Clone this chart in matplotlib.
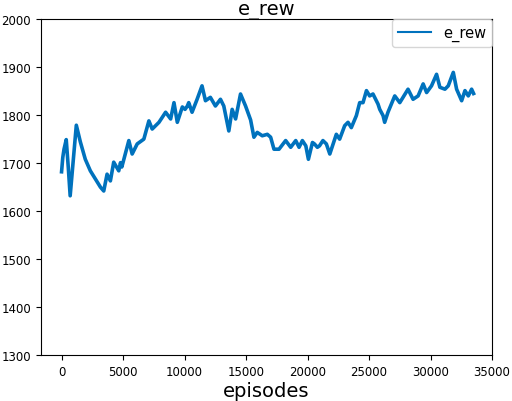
import matplotlib
matplotlib.use("Agg")
import matplotlib.pyplot as plt
import numpy as np

# values (episode, e_rew)
episodes = [
    0, 100, 200, 380, 550, 700, 1200, 1530, 1930, 2340, 2750, 3160, 3430,
    3700, 3970, 4240, 4650, 4790, 4900, 5470, 5740, 6150, 6690, 7100, 7370,
    7920, 8460, 8870, 9140, 9410, 9820, 10040, 10230, 10340, 10610, 11020,
    11420, 11700, 12100, 12510, 12920, 13190, 13600, 13870, 14150, 14550,
    14960, 15370, 15640, 15910, 16320, 16730, 17000, 17270, 17680, 18220,
    18630, 19040, 19310, 19580, 19860, 20070, 20400, 20560, 20800, 20970,
    21250, 21530, 21810, 22340, 22610, 23020, 23290, 23560, 23970, 24240,
    24510, 24790, 25050, 25320, 25730, 25870, 26140, 26270, 26540, 27090,
    27500, 28170, 28580, 28990, 29400, 29680, 30080, 30490, 30760, 31170,
    31440, 31850, 32120, 32530, 32800, 33070, 33340, 33500,
]
e_rew = [
    1682, 1712, 1729, 1749, 1690, 1632, 1779, 1744, 1708, 1684, 1667, 1650,
    1642, 1677, 1663, 1702, 1684, 1701, 1692, 1747, 1719, 1740, 1750, 1788,
    1771, 1785, 1806, 1792, 1826, 1785, 1817, 1812, 1819, 1826, 1806, 1833,
    1861, 1830, 1837, 1819, 1833, 1819, 1767, 1812, 1792, 1844, 1819, 1790,
    1754, 1764, 1757, 1760, 1754, 1729, 1729, 1747, 1733, 1747, 1733, 1747,
    1736, 1708, 1743, 1740, 1733, 1736, 1747, 1740, 1719, 1760, 1750, 1778,
    1785, 1774, 1799, 1826, 1826, 1851, 1840, 1844, 1823, 1812, 1799, 1785,
    1806, 1840, 1826, 1854, 1833, 1840, 1865, 1847, 1861, 1885, 1858, 1854,
    1861, 1889, 1854, 1830, 1851, 1840, 1854, 1845,
]

fig = plt.figure(figsize=(5.12, 4.02), dpi=100)
ax = fig.add_axes([0.08, 0.114, 0.881, 0.836])
ax.plot(episodes, e_rew, color="#0072BD", lw=2.6, label="e_rew")
ax.set_xlim(-1675, 35000)
ax.set_ylim(1300, 2000)
ax.set_xticks(np.arange(0, 35001, 5000))
ax.set_title("e_rew", fontsize=14, pad=4)
ax.set_xlabel("episodes", fontsize=14, labelpad=2)
ax.tick_params(labelsize=8.5)
leg = ax.legend(loc="upper right", bbox_to_anchor=(1, 1), borderaxespad=0,
                fontsize=10.5, handlelength=2.3)
leg.get_lines()[0].set_linewidth(1.5)
fig.savefig("out.png", dpi=100)
